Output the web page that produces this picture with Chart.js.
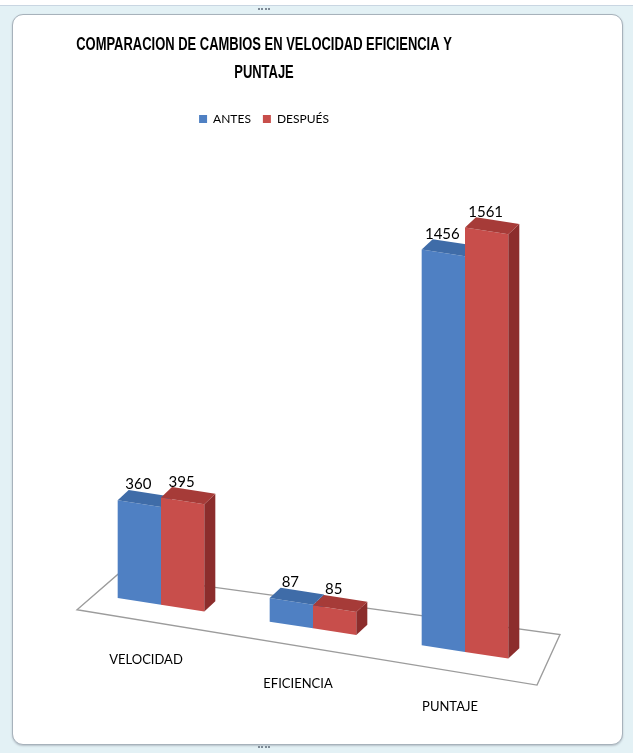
<!DOCTYPE html>
<html>
<head>
<meta charset="utf-8">
<script src="https://cdn.jsdelivr.net/npm/chart.js@4.4.1/dist/chart.umd.min.js"></script>
<style>
  html, body { margin: 0; padding: 0; }
  body { width: 633px; height: 753px; overflow: hidden; position: relative; background: #e3f1f5; }
  #sheet { position: absolute; left: 0; top: 0; width: 633px; height: 5px; background: #fff; border-bottom: 1px solid #c9d6e2; }
  #frame { position: absolute; left: 12px; top: 14px; width: 609px; height: 729px; background: #fff;
           border: 1px solid #a7b2bb; border-radius: 11px; box-shadow: 0 1px 2px #b5c0c8; }
  #wrap { position: absolute; left: -105px; top: 0; width: 738px; height: 753px; }
  .grip { position: absolute; width: 12px; height: 2px; border-top: 2px dotted #7d8a96; }
</style>
</head>
<body>
<div id="sheet"></div>
<div id="frame"></div>
<div class="grip" style="left:258px;top:8px"></div>
<div class="grip" style="left:258px;top:746px"></div>
<div id="wrap"><canvas id="grafico" width="738" height="753"></canvas></div>
<script>
const categorias = ['VELOCIDAD', 'EFICIENCIA', 'PUNTAJE'];
const antes = [360, 87, 1456];
const despues = [395, 85, 1561];
const series = ['ANTES', 'DESPUÉS'];
const titulo = ['COMPARACION DE CAMBIOS EN VELOCIDAD EFICIENCIA Y', 'PUNTAJE'];

const fuente = "Lato, 'Liberation Sans', sans-serif";

// caras frontal / superior / lateral de cada serie
const caras = [
  { frente: '#4f80c3', arriba: '#3f6ca8', lado: '#365f96' },
  { frente: '#c84e4b', arriba: '#a63b38', lado: '#8c2d2c' }
];

const inclinacion = 0.155;   // caída del piso hacia la derecha
const fondoX = 11, fondoY = -12;   // profundidad de las cajas

function cortar(ctx, area) {
  ctx.transform(1, inclinacion, 0, 1, 0, -inclinacion * area.left);
}

// título en letra angosta, dos renglones
const tituloAngosto = {
  id: 'tituloAngosto',
  afterDraw(chart) {
    const ctx = chart.ctx;
    ctx.save();
    ctx.fillStyle = '#000';
    ctx.textAlign = 'center';
    ctx.textBaseline = 'middle';
    ctx.font = "bold 18px 'Liberation Sans', sans-serif";
    titulo.forEach((t, i) => {
      ctx.save();
      ctx.translate(chart.width / 2, 45 + i * 28);
      ctx.scale(0.72, 1);
      ctx.fillText(t, 0, 0);
      ctx.restore();
    });
    ctx.restore();
  }
};

const cajas3d = {
  id: 'cajas3d',
  beforeDatasetDraw() {
    return false; // las barras se pintan abajo, por categoría
  },
  afterDatasetsDraw(chart) {
    const { ctx, chartArea: a } = chart;
    const b = a.bottom;
    ctx.save();
    cortar(ctx, a);

    // piso
    ctx.beginPath();
    ctx.moveTo(a.left + 33, b - 24);
    ctx.lineTo(a.right + 19, b - 32);
    ctx.lineTo(a.right - 4, b + 22);
    ctx.lineTo(a.left - 8, b + 18);
    ctx.closePath();
    ctx.strokeStyle = '#9c9c9c';
    ctx.lineWidth = 1.3;
    ctx.stroke();

    categorias.forEach((_, i) => {
      chart.data.datasets.forEach((ds, d) => {
        const el = chart.getDatasetMeta(d).data[i];
        const c = caras[d];
        const izq = el.x - el.width / 2, der = el.x + el.width / 2;
        el.draw(ctx);
        // lateral
        ctx.fillStyle = c.lado;
        ctx.beginPath();
        ctx.moveTo(der, el.y);
        ctx.lineTo(der + fondoX, el.y + fondoY);
        ctx.lineTo(der + fondoX, el.base + fondoY);
        ctx.lineTo(der, el.base);
        ctx.closePath();
        ctx.fill();
        // tapa
        ctx.fillStyle = c.arriba;
        ctx.beginPath();
        ctx.moveTo(izq, el.y);
        ctx.lineTo(der, el.y);
        ctx.lineTo(der + fondoX, el.y + fondoY);
        ctx.lineTo(izq + fondoX, el.y + fondoY);
        ctx.closePath();
        ctx.fill();
      });
    });
    ctx.restore();

    // textos sin inclinar
    const caida = x => inclinacion * (x - a.left);
    ctx.save();
    ctx.fillStyle = '#000';
    ctx.textAlign = 'center';
    ctx.textBaseline = 'middle';
    ctx.font = '15px ' + fuente;
    chart.data.datasets.forEach((ds, d) => {
      chart.getDatasetMeta(d).data.forEach((el, i) => {
        ctx.fillText(String(ds.data[i]), el.x - 1, el.y + caida(el.x) - 19);
      });
    });
    ctx.font = '13px ' + fuente;
    const xs = chart.scales.x;
    categorias.forEach((cat, i) => {
      const x = xs.getPixelForValue(i) - 15;
      ctx.fillText(cat, x, b + 57.5 + caida(x));
    });
    ctx.restore();
  }
};

new Chart(document.getElementById('grafico'), {
  type: 'bar',
  data: {
    labels: categorias,
    datasets: [
      { label: series[0], data: antes, backgroundColor: caras[0].frente, borderWidth: 0 },
      { label: series[1], data: despues, backgroundColor: caras[1].frente, borderWidth: 0 }
    ]
  },
  options: {
    responsive: false,
    animation: false,
    devicePixelRatio: 1,
    layout: { padding: { left: 92, right: 92, top: 101, bottom: 160 } },
    datasets: { bar: { categoryPercentage: 0.57, barPercentage: 1, clip: false } },
    scales: {
      x: { display: false },
      // eje de valores oculto; sólo ocupa su ancho a la izquierda
      y: {
        min: 0, max: 1685,
        grid: { display: false },
        border: { display: false },
        ticks: { display: false },
        afterFit(scale) { scale.width = 98; }
      }
    },
    plugins: {
      title: { display: false },
      legend: {
        labels: {
          color: '#000',
          boxWidth: 8,
          boxHeight: 8,
          padding: 12,
          font: { family: fuente, size: 12 }
        }
      },
      tooltip: { enabled: false }
    }
  },
  plugins: [cajas3d, tituloAngosto]
});
</script>
</body>
</html>
